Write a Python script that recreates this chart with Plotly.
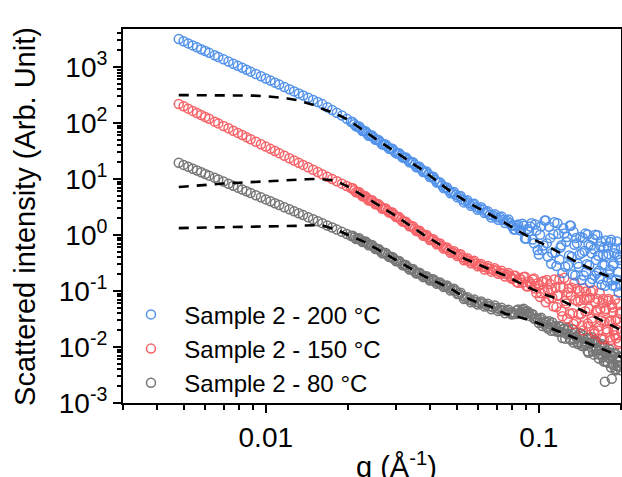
import plotly.graph_objects as go

# ---------------- data ----------------
q_low = [0.0048, 0.0050, 0.0052, 0.0054, 0.0056, 0.0058, 0.0060, 0.0062, 0.0065, 0.0067,
         0.0070, 0.0073, 0.0076, 0.0079, 0.0082, 0.0085, 0.0088, 0.0092, 0.0096, 0.0100,
         0.0104, 0.0108, 0.0112, 0.0117, 0.0122, 0.0127, 0.0132, 0.0137, 0.0143, 0.0149,
         0.0155, 0.0161, 0.0168, 0.0175, 0.0182, 0.0190, 0.0198]
q_mid = [0.0205, 0.0211, 0.0217, 0.0223, 0.0229, 0.0235, 0.0242, 0.0249, 0.0256, 0.0263,
         0.0271, 0.0279, 0.0287, 0.0295, 0.0304, 0.0313, 0.0322, 0.0331, 0.0341, 0.0351,
         0.0361, 0.0372, 0.0383, 0.0394, 0.0405, 0.0417, 0.0429, 0.0442, 0.0455, 0.0468,
         0.0482, 0.0496, 0.0510, 0.0525, 0.0540, 0.0556, 0.0572, 0.0589, 0.0606, 0.0624,
         0.0642, 0.0661, 0.0680, 0.0700, 0.0720, 0.0741, 0.0763, 0.0785]
q_mid2 = [0.0208, 0.0214, 0.0220, 0.0226, 0.0232, 0.0238, 0.0245, 0.0252, 0.0259, 0.0267,
          0.0275, 0.0283, 0.0291, 0.0300, 0.0308, 0.0317, 0.0326, 0.0336, 0.0346, 0.0356,
          0.0366, 0.0377, 0.0388, 0.0399, 0.0411, 0.0423, 0.0435, 0.0448, 0.0461, 0.0475,
          0.0489, 0.0503, 0.0517, 0.0532, 0.0548, 0.0564, 0.0580, 0.0597, 0.0615, 0.0633,
          0.0651, 0.0670, 0.0690, 0.0710, 0.0730, 0.0752, 0.0774, 0.0796]
q_high = [0.080, 0.082, 0.084, 0.086, 0.088, 0.090, 0.092, 0.094, 0.096, 0.098,
          0.100, 0.102, 0.104, 0.106, 0.108, 0.110, 0.112, 0.114, 0.116, 0.118,
          0.120, 0.122, 0.124, 0.126, 0.128, 0.130, 0.132, 0.134, 0.136, 0.138,
          0.140, 0.142, 0.144, 0.146, 0.148, 0.150, 0.152, 0.154, 0.156, 0.158,
          0.160, 0.162, 0.164, 0.166, 0.168, 0.170, 0.172, 0.174, 0.176, 0.178,
          0.180, 0.182, 0.184, 0.186, 0.188, 0.190, 0.192, 0.194, 0.196, 0.198, 0.200]
q_high2 = [0.081, 0.083, 0.085, 0.087, 0.089, 0.091, 0.093, 0.095, 0.097, 0.099,
           0.101, 0.103, 0.105, 0.107, 0.109, 0.111, 0.113, 0.115, 0.117, 0.119,
           0.121, 0.123, 0.125, 0.127, 0.129, 0.131, 0.133, 0.135, 0.137, 0.139,
           0.141, 0.143, 0.145, 0.147, 0.149, 0.151, 0.153, 0.155, 0.157, 0.159,
           0.161, 0.163, 0.165, 0.167, 0.169, 0.171, 0.173, 0.175, 0.177, 0.179,
           0.181, 0.183, 0.185, 0.187, 0.189, 0.191, 0.193, 0.195, 0.197, 0.199]

blue_low = [3162, 2890, 2650, 2438, 2249, 2080, 1931, 1795, 1618, 1514,
            1374, 1253, 1146, 1052, 969, 894, 828, 750, 684, 624,
            573, 527, 486, 442, 403, 368, 338, 311, 283, 259,
            237, 218, 191, 171, 153, 136, 119]
blue_mid = [105, 95.5, 86.5, 78.7, 71.8, 65.6, 59.8, 54.6, 49.9, 45.7,
            41.5, 37.8, 34.6, 31.7, 28.8, 26.3, 24.0, 22.1, 20.0, 18.1,
            16.4, 14.8, 13.4, 12.2, 11.0, 9.77, 8.73, 7.76, 6.92, 6.28,
            5.73, 5.24, 4.95, 4.30, 4.03, 3.68, 3.55, 3.18, 2.97, 2.85,
            2.57, 2.30, 2.23, 2.08, 2.05, 1.85, 1.80, 1.64]
blue_mid2 = [104, 87.3, 86.6, 72.2, 71.3, 59.5, 60.0, 50.1, 49.7, 41.3,
             41.6, 34.7, 34.8, 28.7, 28.9, 24.1, 24.2, 20.0, 20.0, 16.3,
             16.5, 13.4, 13.6, 10.9, 11.0, 8.69, 8.72, 6.89, 7.05, 5.58,
             5.86, 4.73, 4.98, 3.83, 4.16, 3.32, 3.63, 2.83, 3.14, 2.47,
             2.65, 2.06, 2.35, 1.88, 2.14, 1.64, 1.89, 1.46]
blue_high = [1.46, 1.26, 1.55, 1.20, 1.46, 0.86, 1.16, 1.63, 0.71, 1.21,
             0.45, 1.44, 0.65, 1.82, 0.41, 0.88, 0.48, 1.69, 0.28, 1.05,
             0.60, 0.21, 1.06, 0.76, 0.29, 1.48, 0.41, 1.14, 0.19, 0.71,
             0.27, 0.92, 0.48, 0.19, 1.06, 0.30, 0.67, 0.14, 0.47, 0.85,
             0.19, 0.36, 0.99, 0.23, 0.63, 0.13, 0.44, 0.29, 0.80, 0.15,
             0.46, 0.24, 0.82, 0.126, 0.31, 0.58, 0.16, 0.45, 0.094, 0.36, 0.59]
blue_high2 = [1.26, 1.47, 1.23, 1.59, 0.867, 1.28, 1.42, 0.832, 1.55, 0.542,
              1.01, 0.533, 1.81, 0.714, 1.40, 0.307, 1.03, 0.489, 1.62, 0.366,
              0.659, 1.32, 0.272, 0.918, 0.433, 1.46, 0.198, 0.668, 0.887, 0.306,
              0.452, 0.157, 0.891, 0.519, 0.221, 1.02, 0.288, 0.646, 0.164, 0.556,
              1.01, 0.210, 0.427, 0.165, 0.766, 0.296, 0.600, 0.124, 0.424, 0.630,
              0.198, 0.749, 0.156, 0.285, 0.471, 0.121, 0.766, 0.218, 0.399, 0.125]

red_low = [219, 199, 181, 165, 151, 139, 128.5, 119, 106, 98.7,
           88.9, 80.5, 73.1, 66.7, 61.0, 56.0, 51.5, 46.3, 41.9, 38.0,
           34.6, 31.6, 29.0, 26.1, 23.6, 21.5, 19.6, 17.9, 16.2, 14.7,
           13.4, 12.2, 11.0, 10.0, 9.16, 8.28, 7.52]
red_mid = [6.89, 6.31, 5.79, 5.33, 4.91, 4.54, 4.16, 3.83, 3.53, 3.25,
           2.98, 2.73, 2.52, 2.31, 2.09, 1.90, 1.73, 1.58, 1.43, 1.30,
           1.18, 1.07, 0.983, 0.903, 0.831, 0.762, 0.699, 0.640, 0.586, 0.539,
           0.498, 0.461, 0.445, 0.398, 0.370, 0.343, 0.335, 0.308, 0.292, 0.270,
           0.264, 0.250, 0.238, 0.232, 0.214, 0.204, 0.198, 0.184]
red_mid2 = [6.85, 5.80, 5.83, 4.91, 4.91, 4.12, 4.19, 3.53, 3.53, 2.95,
            2.99, 2.52, 2.53, 2.09, 2.09, 1.74, 1.73, 1.43, 1.43, 1.18,
            1.19, 0.974, 0.999, 0.814, 0.844, 0.686, 0.709, 0.575, 0.601, 0.482,
            0.513, 0.421, 0.455, 0.353, 0.385, 0.312, 0.347, 0.276, 0.303, 0.243,
            0.280, 0.222, 0.256, 0.203, 0.230, 0.181, 0.210, 0.166]
red_high = [0.170, 0.187, 0.140, 0.161, 0.178, 0.123, 0.150, 0.126, 0.168, 0.0925,
            0.127, 0.0908, 0.151, 0.0630, 0.104, 0.133, 0.0757, 0.161, 0.0516, 0.0822,
            0.119, 0.0355, 0.172, 0.0596, 0.0955, 0.0392, 0.114, 0.0258, 0.0689, 0.110,
            0.0382, 0.0687, 0.0242, 0.112, 0.0435, 0.0733, 0.0236, 0.0757, 0.0321, 0.103,
            0.0174, 0.0427, 0.0724, 0.0234, 0.0479, 0.0141, 0.0724, 0.0282, 0.0479, 0.0186,
            0.0724, 0.0148, 0.0301, 0.0509, 0.0198, 0.0700, 0.0143, 0.0318, 0.0113, 0.0399, 0.0186]
red_high2 = [0.187, 0.145, 0.167, 0.140, 0.180, 0.120, 0.136, 0.160, 0.111, 0.138,
             0.0779, 0.145, 0.0950, 0.158, 0.0730, 0.105, 0.0535, 0.114, 0.0836, 0.163,
             0.0436, 0.115, 0.0661, 0.0322, 0.111, 0.0827, 0.0402, 0.139, 0.0288, 0.0649,
             0.101, 0.0390, 0.0198, 0.0699, 0.0980, 0.0262, 0.0485, 0.0983, 0.0288, 0.0193,
             0.0624, 0.0462, 0.0197, 0.0923, 0.0299, 0.0610, 0.0136, 0.0442, 0.0207, 0.0668,
             0.0285, 0.0133, 0.0566, 0.0418, 0.0162, 0.0302, 0.0203, 0.0599, 0.0122, 0.0394]

gray_low = [19.5, 17.9, 16.6, 15.3, 14.2, 13.2, 12.3, 11.5, 10.5, 9.84,
            9.00, 8.26, 7.60, 7.02, 6.50, 6.04, 5.62, 5.14, 4.71, 4.33,
            4.00, 3.70, 3.44, 3.14, 2.88, 2.65, 2.45, 2.27, 2.08, 1.91,
            1.76, 1.63, 1.48, 1.36, 1.25, 1.14, 1.04]
gray_mid = [0.966, 0.908, 0.855, 0.807, 0.762, 0.719, 0.661, 0.608, 0.562, 0.519,
            0.476, 0.438, 0.404, 0.373, 0.342, 0.314, 0.289, 0.267, 0.245, 0.226,
            0.208, 0.193, 0.180, 0.169, 0.159, 0.149, 0.139, 0.130, 0.122, 0.115,
            0.106, 0.100, 0.0897, 0.0826, 0.0740, 0.0700, 0.0667, 0.0637, 0.0611, 0.0600,
            0.0558, 0.0533, 0.0510, 0.0500, 0.0467, 0.0447, 0.0440, 0.0407]
gray_mid2 = [0.974, 0.846, 0.873, 0.753, 0.770, 0.656, 0.666, 0.562, 0.562, 0.472,
             0.480, 0.404, 0.407, 0.339, 0.344, 0.289, 0.292, 0.243, 0.247, 0.206,
             0.212, 0.177, 0.184, 0.154, 0.163, 0.135, 0.142, 0.118, 0.126, 0.102,
             0.110, 0.0882, 0.0931, 0.0720, 0.0778, 0.0628, 0.0704, 0.0574, 0.0653, 0.0527,
             0.0594, 0.0474, 0.0550, 0.0440, 0.0503, 0.0399, 0.0465, 0.0379]
gray_high = [0.0417, 0.0390, 0.0468, 0.0430, 0.0481, 0.0393, 0.0406, 0.0387, 0.0324, 0.0328,
             0.0269, 0.0333, 0.0259, 0.0287, 0.0214, 0.0254, 0.0275, 0.0194, 0.0217, 0.0191,
             0.0230, 0.0145, 0.0212, 0.0173, 0.0220, 0.0140, 0.0173, 0.0120, 0.0180, 0.0143,
             0.0120, 0.0176, 0.0104, 0.0140, 0.0112, 0.0139, 0.00787, 0.0119, 0.0149, 0.00828,
             0.0120, 0.00887, 0.0122, 0.00625, 0.00863, 0.0103, 0.00655, 0.0105, 0.00547, 0.00766,
             0.00640, 0.00800, 0.00430, 0.00697, 0.00484, 0.00785, 0.00406, 0.00568, 0.00457, 0.00640, 0.00384]
gray_high2 = [0.0394, 0.0451, 0.0400, 0.0461, 0.0433, 0.0436, 0.0356, 0.0385, 0.0316, 0.0311,
              0.0318, 0.0238, 0.0278, 0.0230, 0.0288, 0.0195, 0.0229, 0.0238, 0.0187, 0.0234,
              0.0186, 0.0210, 0.0141, 0.0206, 0.0168, 0.0134, 0.0207, 0.0139, 0.0154, 0.0113,
              0.0156, 0.0118, 0.0163, 0.0104, 0.0123, 0.00838, 0.0145, 0.0101, 0.0122, 0.00730,
              0.0131, 0.00933, 0.00741, 0.0106, 0.00728, 0.0112, 0.00552, 0.00771, 0.00838, 0.00521,
              0.00909, 0.00608, 0.00682, 0.00474, 0.00741, 0.00384, 0.00622, 0.00448, 0.00675, 0.00452]
gray_extra_q = [0.1746, 0.185]
gray_extra_I = [0.0024, 0.0027]

fit_q = [0.0048, 0.006, 0.007, 0.008, 0.009, 0.010, 0.011, 0.012, 0.013, 0.014,
         0.015, 0.016, 0.018, 0.020, 0.023, 0.026, 0.030, 0.034, 0.038, 0.043,
         0.048, 0.054, 0.060, 0.067, 0.075, 0.085, 0.095, 0.105, 0.120, 0.135,
         0.150, 0.170, 0.190, 0.200]
blue_fit = [316, 316, 315, 314, 309, 302, 292, 275, 257, 234,
            209, 182, 148, 115, 70.8, 47.4, 30.1, 20.2, 13.8, 8.65,
            5.81, 4.03, 3.04, 2.31, 1.66, 1.15, 0.851, 0.676, 0.468, 0.347,
            0.269, 0.204, 0.166, 0.151]
red_fit = [7.2, 7.94, 8.32, 8.61, 8.91, 9.12, 9.33, 9.55, 9.77, 9.89,
           10.0, 10.0, 9.33, 7.33, 4.84, 3.37, 2.19, 1.44, 1.0, 0.694,
           0.503, 0.370, 0.298, 0.240, 0.190, 0.140, 0.107, 0.0871, 0.0692, 0.0525,
           0.0407, 0.0302, 0.0229, 0.0200]
gray_fit = [1.33, 1.35, 1.36, 1.38, 1.40, 1.41, 1.43, 1.45, 1.46, 1.48,
            1.50, 1.50, 1.26, 1.01, 0.753, 0.537, 0.356, 0.247, 0.184, 0.139,
            0.107, 0.0762, 0.0618, 0.0521, 0.0398, 0.0339, 0.0288, 0.0240, 0.0186, 0.0148,
            0.0120, 0.00933, 0.00741, 0.00661]

labels = ["Sample 2 - 200 °C", "Sample 2 - 150 °C", "Sample 2 - 80 °C"]
y_tick_vals = [1e-3, 1e-2, 1e-1, 1e0, 1e1, 1e2, 1e3]
y_tick_text = ["10<sup>-3</sup>", "10<sup>-2</sup>", "10<sup>-1</sup>", "10<sup>0</sup>",
               "10<sup>1</sup>", "10<sup>2</sup>", "10<sup>3</sup>"]
x_tick_vals = [0.01, 0.1]
x_tick_text = ["0.01", "0.1"]

# ---------------- figure ----------------
FONT = "Liberation Sans, Arial, sans-serif"
q_all = q_low + q_mid + q_mid2 + q_high + q_high2
series = [
    (labels[2], gray_low + gray_mid + gray_mid2 + gray_high + gray_high2 + gray_extra_I,
     q_all + gray_extra_q, "rgb(85,85,85)", 3),
    (labels[1], red_low + red_mid + red_mid2 + red_high + red_high2, q_all, "rgb(245,60,66)", 2),
    (labels[0], blue_low + blue_mid + blue_mid2 + blue_high + blue_high2, q_all, "rgb(40,120,230)", 1),
]

fig = go.Figure()
for name, yv, xv, col, rank in series:
    fig.add_trace(go.Scatter(
        x=xv, y=yv, mode="markers", name="\u00a0\u00a0" + name, legendrank=rank,
        opacity=0.8,
        marker=dict(symbol="circle-open", size=9, color=col, line=dict(width=1.5, color=col)),
    ))

for fv in (blue_fit, red_fit, gray_fit):
    fig.add_trace(go.Scatter(
        x=fit_q, y=fv, mode="lines", showlegend=False,
        line=dict(color="black", width=2.6, dash="10px,8px"),
    ))

minor_x = [m * 10.0 ** e for e in (-3, -2, -1) for m in range(2, 10)]
minor_y = [m * 10.0 ** e for e in range(-3, 4) for m in range(2, 10)]

axis_common = dict(
    type="log", showgrid=False, zeroline=False, automargin=False,
    showline=True, linecolor="black", linewidth=2, mirror=True,
    ticks="outside", ticklen=8, tickwidth=2, tickcolor="black",
    tickfont=dict(family=FONT, size=28, color="black"),
)

fig.update_xaxes(**axis_common, range=[-2.523, -0.699],
                 tickmode="array", tickvals=x_tick_vals, ticktext=x_tick_text,
                 minor=dict(tickmode="array", tickvals=minor_x, ticks="outside",
                            ticklen=5, tickwidth=1.5, tickcolor="black", showgrid=False))
fig.update_yaxes(**axis_common, range=[-3, 3.68],
                 tickmode="array", tickvals=y_tick_vals, ticktext=y_tick_text,
                 minor=dict(tickmode="array", tickvals=minor_y, ticks="outside",
                            ticklen=4, tickwidth=1.5, tickcolor="black", showgrid=False))

fig.update_layout(
    width=622, height=477,
    margin=dict(l=123, r=1, t=29, b=74),
    paper_bgcolor="white", plot_bgcolor="white",
    font=dict(family=FONT, color="black"),
    showlegend=True,
    legend=dict(x=0.016, y=0.296, xanchor="left", yanchor="top",
                bgcolor="rgba(0,0,0,0)", borderwidth=0,
                font=dict(family=FONT, size=24, color="black"),
                itemsizing="trace", tracegroupgap=0),
    annotations=[
        dict(text="Scattered intensity (Arb. Unit)", xref="paper", yref="paper",
             x=-0.197, y=0.5, xanchor="center", yanchor="middle", textangle=-90,
             showarrow=False, font=dict(family=FONT, size=29, color="black")),
        dict(text="q (Å<sup>-1</sup>)", xref="paper", yref="paper",
             x=0.55, y=-0.165, xanchor="center", yanchor="middle",
             showarrow=False, font=dict(family=FONT, size=29, color="black")),
    ],
)

# remove the default 8 px page margin so the 622x477 figure fills the window exactly
fig.write_html(
    "out.html",
    default_width="622px",
    default_height="477px",
    config={"displayModeBar": False},
    post_script="document.body.style.margin='0px';"
                "document.documentElement.style.overflow='hidden';",
)
